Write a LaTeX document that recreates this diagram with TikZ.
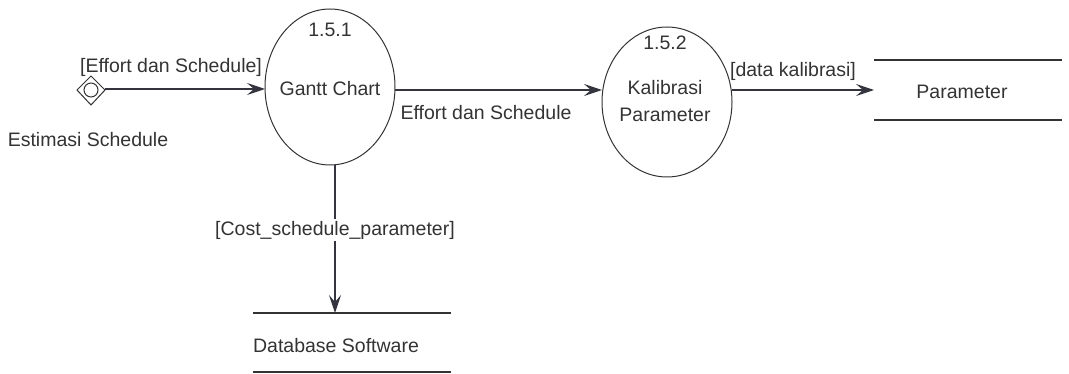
\documentclass[tikz,border=0pt]{standalone}
\usepackage{fontspec}
\setmainfont{Liberation Sans}
\usetikzlibrary{arrows.meta}
\definecolor{ink}{HTML}{333333}
\definecolor{flow}{HTML}{34343F}
\begin{document}
\begin{tikzpicture}[x=1pt,y=-1pt,
  every node/.style={font=\fontsize{19.5}{22}\selectfont, text=ink, inner sep=1pt},
  storeline/.style={draw=ink, line width=1.3pt},
  dataflow/.style={draw=flow, line width=1.4pt,
    -{Stealth[length=18pt,width=12pt,inset=7pt]}},
  lbl/.style={fill=white, inner sep=2pt}
]
\useasboundingbox (0,0) rectangle (1069,374);

% processes
\draw[ink, line width=1pt] (330,87) ellipse [x radius=65pt, y radius=78pt];
\draw[ink, line width=1pt] (667,102) ellipse [x radius=65pt, y radius=75pt];
\coordinate (ganttW) at (265,89);
\coordinate (ganttE) at (395,90);
\coordinate (ganttS) at (335,165);
\coordinate (kalW) at (602,90);
\coordinate (kalE) at (732,90);
\node (n151) at (330,30) {1.5.1};
\node (gantt) at (330,89) {Gantt Chart};
\node (n152) at (665,43) {1.5.2};
\node (kal1) at (665,88) {Kalibrasi};
\node (kal2) at (665,115) {Parameter};

% external event (diamond with circle)
\draw[ink, line width=1pt] (91,76) -- (105,90) -- (91,105) -- (77,90) -- cycle;
\draw[ink, line width=1pt] (91,90) circle (7pt);
\coordinate (ext) at (105,89);
\node (extlbl) at (88,140) {Estimasi Schedule};

% data stores
\coordinate (parTL) at (874,60);
\coordinate (parTR) at (1062,60);
\coordinate (parBL) at (874,120);
\coordinate (parBR) at (1062,120);
\draw[storeline] (parTL) -- (parTR);
\draw[storeline] (parBL) -- (parBR);
\node (par) at (962,92) {Parameter};
\coordinate (parW) at (874,90);

\coordinate (dbTL) at (253,313);
\coordinate (dbTR) at (451,313);
\coordinate (dbBL) at (253,372);
\coordinate (dbBR) at (451,372);
\draw[storeline] (dbTL) -- (dbTR);
\draw[storeline] (dbBL) -- (dbBR);
\node (db) at (336,346) {Database Software};
\coordinate (dbN) at (335,313);

% flows
\draw[dataflow] (ext) -- (ganttW);
\node (f1) at (171,67) {[Effort dan Schedule]};
\draw[dataflow] (ganttE) -- (kalW);
\node (f2) at (486,113) {Effort dan Schedule};
\draw[dataflow] (kalE) -- (parW);
\node (f3) at (793,71) {[data kalibrasi]};
\draw[dataflow] (ganttS) -- (dbN);
\node[lbl] (f4) at (335,230) {[Cost\_schedule\_parameter]};
\end{tikzpicture}
\end{document}
